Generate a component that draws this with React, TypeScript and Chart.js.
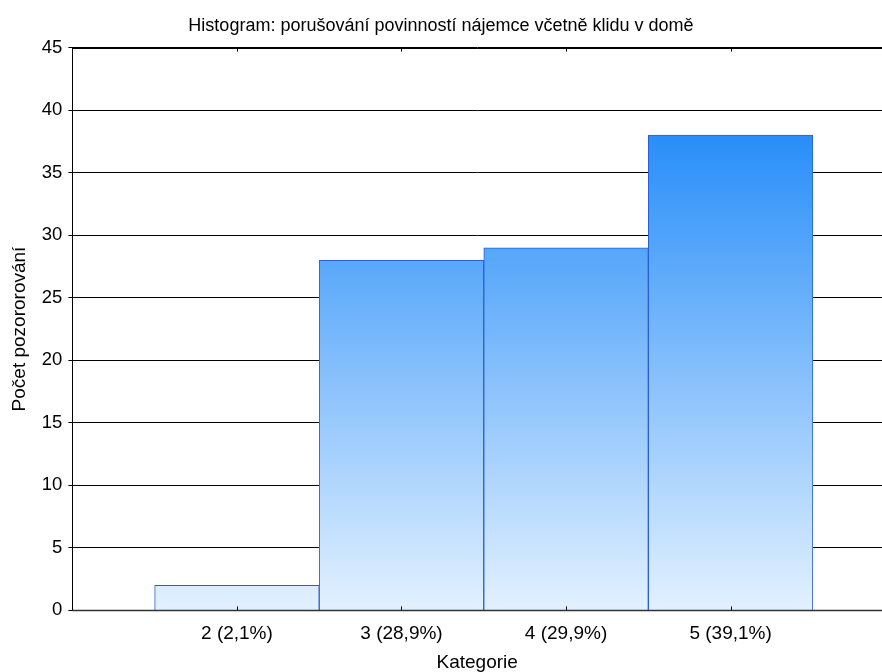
import React, { useEffect, useRef } from "react";
import { Chart, registerables } from "chart.js";

Chart.register(...registerables);

const categories = [2, 3, 4, 5];
const tickLabels = ["2 (2,1%)", "3 (28,9%)", "4 (29,9%)", "5 (39,1%)"];
const counts = [2, 28, 29, 38];

const FONT = "'Liberation Sans', Arial, sans-serif";

const framePlugin = {
  id: "frame",
  afterDatasetsDraw(chart: any) {
    const { ctx, chartArea, scales } = chart;
    const x = scales.x;
    ctx.save();
    ctx.strokeStyle = "#000";
    ctx.lineWidth = 1;
    ctx.beginPath();
    ctx.moveTo(chartArea.left, Math.round(chartArea.top) + 0.5);
    ctx.lineTo(chartArea.right, Math.round(chartArea.top) + 0.5);
    ctx.stroke();
    categories.forEach((c) => {
      const px = Math.round(x.getPixelForValue(c)) + 0.5;
      ctx.beginPath();
      ctx.moveTo(px, chartArea.top);
      ctx.lineTo(px, chartArea.top + 4);
      ctx.moveTo(px, chartArea.bottom);
      ctx.lineTo(px, chartArea.bottom - 4);
      ctx.stroke();
    });
    ctx.strokeStyle = "#333";
    ctx.lineWidth = 1.5;
    ctx.beginPath();
    ctx.moveTo(chartArea.left, chartArea.bottom);
    ctx.lineTo(chartArea.right, chartArea.bottom);
    ctx.stroke();
    ctx.restore();
  },
};

export default function App() {
  const ref = useRef<HTMLCanvasElement>(null);
  useEffect(() => {
    const canvas = ref.current!;
    const maxVal = Math.max(...counts);
    const chart = new Chart(canvas, {
      type: "bar",
      data: {
        datasets: [
          {
            data: categories.map((c, i) => ({ x: c, y: counts[i] })),
            backgroundColor: (ctx: any) => {
              const ch = ctx.chart;
              const area = ch.chartArea;
              if (!area) return "#8fc3fb";
              const yTop = ch.scales.y.getPixelForValue(maxVal);
              const g = ch.ctx.createLinearGradient(0, area.bottom, 0, yTop);
              g.addColorStop(0, "#e3f1ff");
              g.addColorStop(1, "#288ef9");
              return g;
            },
            borderColor: "#2a5fd4",
            borderWidth: 1,
            barPercentage: 1,
            categoryPercentage: 1,
          } as any,
        ],
      },
      plugins: [framePlugin],
      options: {
        animation: false,
        responsive: false,
        maintainAspectRatio: false,
        layout: { padding: { top: 0, right: 0, bottom: 0, left: 0 } },
        plugins: {
          legend: { display: false },
          tooltip: { enabled: false },
          title: {
            display: true,
            text: "Histogram: porušování povinností nájemce včetně klidu v domě",
            color: "#000",
            font: { family: FONT, size: 18, weight: "normal" },
            padding: { top: 15, bottom: 11 },
          },
        },
        scales: {
          x: {
            type: "linear",
            offset: false,
            min: 1.0,
            max: 5.92,
            afterBuildTicks: (scale: any) => {
              scale.ticks = categories.map((v) => ({ value: v }));
            },
            ticks: {
              color: "#000",
              font: { family: FONT, size: 19 },
              padding: 12,
              maxRotation: 0,
              autoSkip: false,
              callback: (v: any) => {
                const i = categories.indexOf(Number(v));
                return i >= 0 ? tickLabels[i] : "";
              },
            },
            grid: { display: false, drawTicks: false },
            border: { display: true, color: "#333", width: 1 },
            title: {
              display: true,
              text: "Kategorie",
              color: "#000",
              font: { family: FONT, size: 19 },
              padding: { top: -6, bottom: -2 },
            },
          },
          y: {
            min: 0,
            max: 45,
            ticks: {
              stepSize: 5,
              color: "#000",
              font: { family: FONT, size: 18.5 },
              padding: 6,
            },
            grid: { color: "#000", lineWidth: 1, tickLength: 4, tickColor: "#000" },
            border: { display: true, color: "#000", width: 1 },
            title: {
              display: true,
              text: "Počet pozororování",
              color: "#000",
              font: { family: FONT, size: 19 },
              padding: { top: 8, bottom: 5 },
            },
          },
        },
      },
    } as any);
    return () => chart.destroy();
  }, []);
  return (
    <div style={{ position: "fixed", left: 0, top: 0, width: 882, height: 672, background: "#fff" }}>
      <canvas ref={ref} width={882} height={672} style={{ width: 882, height: 672 }} />
    </div>
  );
}
